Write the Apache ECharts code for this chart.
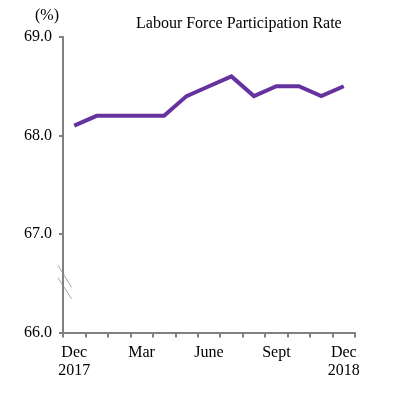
<!DOCTYPE html>
<html>
<head>
<meta charset="utf-8">
<script src="https://cdn.jsdelivr.net/npm/echarts@6/dist/echarts.min.js"></script>
<style>html,body{margin:0;padding:0;background:#fff;}#c{width:394px;height:397px;}</style>
</head>
<body>
<div id="c"></div>
<script>
const categories = ['Dec\n2017','Jan','Feb','Mar','Apr','May','June','Jul','Aug','Sept','Oct','Nov','Dec\n2018'];
const shownLabels = ['Dec\n2017','','','Mar','','','June','','','Sept','','','Dec\n2018'];
const rateValues = [68.1, 68.2, 68.2, 68.2, 68.2, 68.4, 68.5, 68.6, 68.4, 68.5, 68.5, 68.4, 68.5];
const yTicks = [66.0, 67.0, 68.0, 69.0];
const titleText = 'Labour Force Participation Rate';
const unitText = '(%)';

const font = 'Liberation Serif, Times New Roman, serif';
const chart = echarts.init(document.getElementById('c'), null, {renderer: 'canvas'});
const option = {
  animation: false,
  backgroundColor: '#fff',
  title: [
    {text: titleText, left: 131, top: 11, textStyle: {fontFamily: font, fontSize: 16, fontWeight: 'normal', color: '#000'}},
    {text: unitText, left: 30, top: 3, textStyle: {fontFamily: font, fontSize: 16, fontWeight: 'normal', color: '#000'}}
  ],
  grid: {left: 63, right: 39, top: 37, bottom: 64.5, containLabel: false},
  xAxis: {
    type: 'category',
    data: categories,
    boundaryGap: true,
    axisLine: {lineStyle: {color: '#808080', width: 2}},
    axisTick: {show: true, length: 5, interval: 0, lineStyle: {color: '#808080', width: 2}},
    axisLabel: {
      interval: 0, margin: 11, color: '#000', fontFamily: font, fontSize: 16, lineHeight: 18,
      formatter: (v, i) => shownLabels[i]
    },
    splitLine: {show: false}
  },
  yAxis: {
    type: 'value',
    min: yTicks[0], max: yTicks[yTicks.length - 1], interval: 1,
    axisLine: {show: true, lineStyle: {color: '#808080', width: 2}},
    axisTick: {show: true, length: 4, lineStyle: {color: '#808080', width: 2}},
    axisLabel: {margin: 11, color: '#000', fontFamily: font, fontSize: 16, formatter: v => v.toFixed(1)},
    splitLine: {show: false}
  },
  series: [{
    type: 'line',
    data: rateValues,
    symbol: 'none',
    lineStyle: {color: '#6632A0', width: 4, cap: 'butt', join: 'miter'}
  }]
};
chart.setOption(option);

// decorative axis-break marks on the y axis around 66.5
const p = chart.convertToPixel({gridIndex: 0}, [0, 66.5]);
const axisX = 63;
const cy = p[1];
chart.setOption({
  graphic: [
    {type: 'line', shape: {x1: axisX - 5, y1: cy - 18, x2: axisX + 8.5, y2: cy + 4}, style: {stroke: '#a6a6a6', lineWidth: 1}},
    {type: 'line', shape: {x1: axisX - 5, y1: cy - 5.5, x2: axisX + 8.5, y2: cy + 15.5}, style: {stroke: '#a6a6a6', lineWidth: 1}}
  ]
});
</script>
</body>
</html>
